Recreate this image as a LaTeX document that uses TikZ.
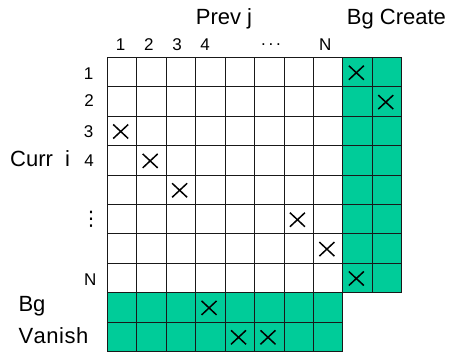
\documentclass[tikz,border=0pt]{standalone}
\usepackage{fontspec}
\setmainfont{Liberation Sans}
\newfontfamily\dejavu{DejaVu Sans}
\usetikzlibrary{shapes.misc}
\definecolor{bggreen}{RGB}{0,204,153}
\begin{document}
\begin{tikzpicture}[x=1pt,y=-1pt,
  big/.style={font=\fontsize{22}{26}\selectfont, inner sep=0pt},
  small/.style={font=\fontsize{17}{20}\selectfont, inner sep=0pt},
  gridline/.style={draw=black!90, line width=0.9pt},
  xmark/.style={cross out, draw=black, line width=1.5pt, minimum width=13.5pt, minimum height=12.5pt, inner sep=0pt}]
\useasboundingbox (0,0) rectangle (454,354);
\def\xo{107.3}\def\yo{57.5}\def\cw{29.45}\def\rh{29.4}
% green areas
\fill[bggreen] ({\xo+8*\cw},\yo) rectangle ({\xo+10*\cw},{\yo+8*\rh});
\fill[bggreen] (\xo,{\yo+8*\rh}) rectangle ({\xo+8*\cw},{\yo+10*\rh});
% grid lines
\foreach \i in {0,...,8} \draw[gridline] ({\xo+\i*\cw},\yo) -- ({\xo+\i*\cw},{\yo+10*\rh});
\foreach \i in {9,10} \draw[gridline] ({\xo+\i*\cw},\yo) -- ({\xo+\i*\cw},{\yo+8*\rh});
\foreach \j in {0,...,8} \draw[gridline] (\xo,{\yo+\j*\rh}) -- ({\xo+10*\cw},{\yo+\j*\rh});
\foreach \j in {9,10} \draw[gridline] (\xo,{\yo+\j*\rh}) -- ({\xo+8*\cw},{\yo+\j*\rh});
% crosses (column, row)
\foreach \c/\r [count=\k] in {9/1,10/2,1/3,2/4,3/5,7/6,8/7,9/8,4/9,5/10,6/10}
  \node[xmark] (x\k) at ({\xo+(\c-0.5)*\cw-1.3},{\yo+(\r-0.5)*\rh+0.5}) {};
% titles
\node[big, anchor=base] (prev) at (224,24) {Prev j};
\node[big, anchor=base west] (bgc) at (346.7,24) {Bg Create};
\node[big, anchor=base west] (curr) at (10,166.7) {Curr \ i};
\node[big, anchor=base west] (bg) at (18.3,311.7) {Bg};
\node[big, anchor=base west] (van) at (18.3,343.3) {V\kern0.5pt a\kern0.5pt n\kern0.5pt i\kern0.5pt s\kern0.5pt h};
% column numbers
\node[small, anchor=base] (c1) at (120.5,50.7) {1};
\node[small, anchor=base] (c2) at (148.8,50.7) {2};
\node[small, anchor=base] (c3) at (177,50.7) {3};
\node[small, anchor=base] (c4) at (205,50.7) {4};
\node[small, anchor=base] (cd) at (271,45) {.\,.\,.};
\node[small, anchor=base] (cN) at (325.3,50.7) {N};
% row numbers
\node[small, anchor=base east] (r1) at (93.5,79.3) {1};
\node[small, anchor=base east] (r2) at (94,106.7) {2};
\node[small, anchor=base east] (r3) at (93.5,137.3) {3};
\node[small, anchor=base east] (r4) at (94,166.7) {4};
\node[inner sep=0pt, font=\dejavu\fontsize{20}{24}\selectfont] (rd) at (91,219) {⋮};
\node[small, anchor=base east] (rN) at (96.5,285) {N};
\end{tikzpicture}
\end{document}
